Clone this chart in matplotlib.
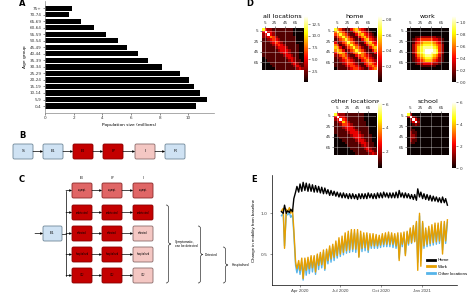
import numpy as np
import matplotlib.pyplot as plt
from matplotlib.patches import FancyBboxPatch, PathPatch
from matplotlib.path import Path
from matplotlib.lines import Line2D

W, H = 474, 305

# ---------------- data ----------------
# A: population by age group (millions)
age_groups = ['0-4', '5-9', '10-14', '15-19', '20-24', '25-29', '30-34', '35-39',
              '40-44', '45-49', '50-54', '55-59', '60-64', '65-69', '70-74', '75+']
population = [10.54, 11.33, 10.84, 10.37, 10.05, 9.40, 8.20, 7.20,
              6.50, 5.73, 5.10, 4.25, 3.40, 2.50, 1.68, 1.90]

# D: contact matrices, each digit = level 0..9 between vmin and vmax
all_rows = ["7322111111110000", "3933211111110000", "2393211111110000", "2235421111111000",
            "1123432111111000", "1112343211111000", "1111234321111100", "1111123332111100",
            "1111112333211100", "1111111233211100", "1111111123321100", "0111111112332100",
            "0011111111232110", "0001111111123211", "0000111111112321", "0000011111111232"]
home_rows = ["7542113564321000", "5754211356432100", "4575421135643210", "2457542113564321",
             "1245754211356432", "3124575421135643", "5312457542113564", "6531245754211356",
             "5653124575421135", "3565312457542113", "2245421134543211", "1224532113454321",
             "1123443211345432", "1112344321134543", "1111234432113454", "0111123443211345"]
work_rows = ["0000000000000000", "0000000000000000", "0000000000000000", "0001122222211000",
             "0012344444332100", "0013456666543100", "0024567777654200", "0024678888764200",
             "0024678999874200", "0024678998874200", "0013567887653100", "0012456776542100",
             "0012345665432100", "0001223333221000", "0000011111100000", "0000000000000000"]
other_rows = ["7322111111100000", "3933211111100000", "2394311111100000", "1236421111110000",
              "1124432111110000", "1112333211111000", "1111233321111000", "1111123332111000",
              "0111112333211100", "0011111233211100", "0001111123321100", "0000111112332110",
              "0000011111232110", "0000001111123211", "0000000111112321", "0000000011111232"]
school_rows = ["7200000000000000", "2921000000000000", "0293100000000000", "0139200000000000",
               "0012100000000000", "0100000000000000", "0110000000000000", "0211000000000000",
               "0221000000000000", "0221000000000000", "0211000000000000", "0110000000000000",
               "0000000000000000", "0000000000000000", "0000000000000000", "0000000000000000"]

# E: mobility, one weekday and one weekend value per week (weeks from 17 Feb 2020)
first_monday = np.datetime64('2020-02-17')
home_wd = [1.02, 1.10, 1.03, 1.05, 1.18, 1.33, 1.36, 1.38, 1.37, 1.36, 1.35, 1.34, 1.33, 1.32,
           1.31, 1.29, 1.28, 1.27, 1.26, 1.25, 1.25, 1.24, 1.24, 1.24, 1.23, 1.24, 1.24, 1.24,
           1.25, 1.24, 1.24, 1.25, 1.25, 1.26, 1.25, 1.25, 1.25, 1.26, 1.28, 1.25, 1.25, 1.24,
           1.23, 1.23, 1.30, 1.26, 1.24, 1.23, 1.22, 1.21, 1.20, 1.19, 1.20, 1.18]
home_we = [1.00, 1.00, 1.01, 1.02, 1.26, 1.26, 1.27, 1.28, 1.27, 1.27, 1.26, 1.26, 1.25, 1.24,
           1.24, 1.22, 1.22, 1.21, 1.20, 1.19, 1.19, 1.18, 1.18, 1.18, 1.17, 1.18, 1.18, 1.18,
           1.19, 1.18, 1.18, 1.19, 1.19, 1.20, 1.19, 1.19, 1.19, 1.19, 1.20, 1.19, 1.19, 1.18,
           1.17, 1.16, 1.20, 1.18, 1.17, 1.16, 1.15, 1.15, 1.14, 1.13, 1.13, 1.10]
work_wd = [1.03, 0.57, 1.02, 1.00, 0.80, 0.32, 0.30, 0.20, 0.30, 0.32, 0.33, 0.28, 0.36, 0.37,
           0.32, 0.42, 0.44, 0.46, 0.48, 0.50, 0.52, 0.54, 0.55, 0.56, 0.56, 0.46, 0.57, 0.58,
           0.55, 0.60, 0.60, 0.60, 0.61, 0.62, 0.62, 0.62, 0.62, 0.60, 0.42, 0.62, 0.48, 0.63,
           0.64, 0.65, 0.30, 0.35, 0.60, 0.62, 0.63, 0.64, 0.65, 0.66, 0.50, 0.66]
work_we = [1.06, 1.05, 1.07, 1.05, 0.40, 0.42, 0.45, 0.45, 0.46, 0.48, 0.48, 0.50, 0.52, 0.55,
           0.56, 0.60, 0.62, 0.66, 0.70, 0.72, 0.76, 0.78, 0.80, 0.80, 0.80, 0.78, 0.76, 0.76,
           0.75, 0.75, 0.74, 0.73, 0.75, 0.76, 0.77, 0.76, 0.75, 0.76, 0.76, 0.77, 0.78, 0.82,
           0.85, 0.90, 1.00, 0.90, 0.82, 0.84, 0.86, 0.88, 0.88, 0.90, 0.90, 0.92]
other_wd = [0.97, 0.60, 0.98, 0.95, 0.75, 0.27, 0.25, 0.18, 0.24, 0.26, 0.28, 0.25, 0.31, 0.33,
            0.30, 0.38, 0.40, 0.42, 0.45, 0.47, 0.49, 0.51, 0.52, 0.53, 0.52, 0.47, 0.53, 0.54,
            0.52, 0.57, 0.57, 0.57, 0.58, 0.59, 0.59, 0.59, 0.58, 0.57, 0.45, 0.59, 0.50, 0.61,
            0.63, 0.66, 0.40, 0.42, 0.57, 0.59, 0.60, 0.61, 0.62, 0.63, 0.55, 0.63]
other_we = [1.00, 1.00, 1.01, 0.98, 0.36, 0.38, 0.40, 0.42, 0.43, 0.45, 0.46, 0.48, 0.50, 0.52,
            0.54, 0.57, 0.59, 0.63, 0.66, 0.68, 0.72, 0.74, 0.76, 0.76, 0.76, 0.74, 0.73, 0.73,
            0.72, 0.72, 0.71, 0.70, 0.72, 0.73, 0.74, 0.73, 0.72, 0.73, 0.73, 0.74, 0.76, 0.80,
            0.83, 0.88, 0.97, 0.88, 0.79, 0.81, 0.83, 0.85, 0.85, 0.87, 0.87, 0.89]


def px_axes(x0, y0, x1, y1):
    # axes placed by pixel box (top-left origin)
    return fig.add_axes([x0 / W, 1 - y1 / H, (x1 - x0) / W, (y1 - y0) / H])


fig = plt.figure(figsize=(W / 100, H / 100), dpi=100)

# ---------------- A ----------------
ax = px_axes(45, 1.3, 214, 113)
ax.barh(range(len(population)), population, height=0.8, color='black')
ax.set_ylim(-1.07, 16.07)
ax.set_xlim(0, 11.8)
ax.set_yticks(range(len(age_groups)))
ax.set_yticklabels(age_groups)
ax.set_xticks([0, 2, 4, 6, 8, 10])
ax.tick_params(labelsize=3, length=1.5, width=0.4, pad=1, colors='#333333')
for s in ['top', 'right']:
    ax.spines[s].set_visible(False)
for s in ['left', 'bottom']:
    ax.spines[s].set_linewidth(0.5)
    ax.spines[s].set_color('#888888')
ax.set_xlabel('Population size (millions)', fontsize=3.2, labelpad=2)
ax.set_ylabel('Age group', fontsize=3.2, labelpad=2)

# ---------------- D ----------------
def heat(rows, vmin, vmax, box, cbox, title, ticks):
    m = np.array([[int(c) for c in r] for r in rows]) / 9 * (vmax - vmin) + vmin
    a = px_axes(*box)
    im = a.imshow(m, cmap='hot', vmin=vmin, vmax=vmax, extent=(0, 80, 80, 0),
                  interpolation='nearest', aspect='auto')
    a.xaxis.tick_top()
    a.set_xticks([5, 25, 45, 65])
    a.set_yticks([5, 25, 45, 65])
    a.tick_params(labelsize=3, length=1.5, width=0.4, pad=1, colors='#333333')
    a.grid(True, color='white', lw=0.4, alpha=0.6)
    a.set_axisbelow(False)
    for s in a.spines.values():
        s.set_visible(False)
    a.set_title(title, fontsize=4.6, pad=2)
    c = px_axes(*cbox)
    cb = fig.colorbar(im, cax=c, ticks=ticks)
    cb.outline.set_visible(False)
    c.tick_params(labelsize=3, length=1.5, width=0.4, pad=1, colors='#333333')


heat(all_rows, 0.2, 14.2, (262, 28, 303, 70), (304, 16, 308, 82), 'all locations',
     [2.5, 5.0, 7.5, 10.0, 12.5])
heat(home_rows, 0.0, 0.85, (334, 28, 376, 70), (378, 16, 382, 82), 'home',
     [0.2, 0.4, 0.6, 0.8])
heat(work_rows, 0.0, 1.1, (407, 28, 449, 70), (452, 16, 456, 82), 'work',
     [0.0, 0.2, 0.4, 0.6, 0.8, 1.0])
heat(other_rows, 0.6, 6.2, (334, 113, 376, 155), (378, 102, 382, 168), 'other locations',
     [2, 4, 6])
heat(school_rows, 0.0, 6.0, (407, 113, 449, 155), (452, 102, 456, 168), 'school',
     [0, 2, 4, 6])

# ---------------- B & C (flow charts) ----------------
fc_ax = px_axes(0, 125, 240, 305)
fc_ax.set_xlim(0, 240)
fc_ax.set_ylim(305, 125)
fc_ax.axis('off')

blue, blue_ec = '#cfe2f3', '#6f8798'
dred, dred_ec = '#c40000', '#8a0000'
mred, mred_ec = '#e06666', '#8a2a2a'
pink, pink_ec = '#f4c7c3', '#8a6a6a'
ff = 'Liberation Sans'


def box(x0, y0, x1, y1, fc, ec, label, fs=2.6):
    fc_ax.add_patch(FancyBboxPatch((x0, y0), x1 - x0, y1 - y0,
                                   boxstyle='round,pad=0,rounding_size=1.5',
                                   fc=fc, ec=ec, lw=0.6))
    fc_ax.text((x0 + x1) / 2, (y0 + y1) / 2, label, ha='center', va='center',
               fontsize=fs, family=ff)


def arrow(x0, y0, x1, y1):
    fc_ax.annotate('', xy=(x1, y1), xytext=(x0, y0),
                   arrowprops=dict(arrowstyle='-|>', color='k', lw=0.5,
                                   mutation_scale=3, shrinkA=0, shrinkB=0))


def brace(x, y0, y1, w):
    ym = (y0 + y1) / 2
    r = w / 2
    verts = [(x, y0), (x + r, y0), (x + r, y0 + r), (x + r, ym - r),
             (x + r, ym), (x + w, ym), (x + r, ym), (x + r, ym + r),
             (x + r, y1 - r), (x + r, y1), (x, y1)]
    codes = [Path.MOVETO, Path.CURVE3, Path.CURVE3, Path.LINETO,
             Path.CURVE3, Path.CURVE3, Path.CURVE3, Path.CURVE3,
             Path.LINETO, Path.CURVE3, Path.CURVE3]
    fc_ax.add_patch(PathPatch(Path(verts, codes), fc='none', ec='#333333', lw=0.5))


# B
b_labels = ['S', 'E$_L$', 'E$_I$', 'I$_P$', 'I', 'R']
b_colors = [(blue, blue_ec), (blue, blue_ec), (dred, dred_ec), (dred, dred_ec),
            (pink, pink_ec), (blue, blue_ec)]
b_x = [13, 43, 73, 103, 135, 165]
for i, (lab, (f, e), x) in enumerate(zip(b_labels, b_colors, b_x)):
    box(x, 144, x + 20, 159, f, e, lab, fs=3)
    if i < len(b_x) - 1:
        arrow(x + 20, 151.5, b_x[i + 1], 151.5)

# C
box(43, 226, 62, 241, blue, blue_ec, 'E$_L$', fs=3)
arrow(35, 233.5, 43, 233.5)
col_x = [72, 102, 133]
row_y = [183, 205, 226, 247, 268]
row_names = ['asympt.', 'undetected', 'detected', 'hospitalised', 'ICU']
col_heads = ['E$_I$', 'I$_P$', 'I']
for cx, hd in zip(col_x, col_heads):
    fc_ax.text(cx + 10, 178, hd, ha='center', va='center', fontsize=2.6, family=ff)
fc_ax.plot([62, 66], [233.5, 233.5], color='k', lw=0.5)
fc_ax.plot([66, 66], [row_y[0] + 7.5, row_y[-1] + 7.5], color='k', lw=0.5)
for r, (ry, name) in enumerate(zip(row_y, row_names)):
    arrow(66, ry + 7.5, 72, ry + 7.5)
    for c, cx in enumerate(col_x):
        if r == 0:
            f, e = mred, mred_ec
        elif c == 2 and r >= 2:
            f, e = pink, pink_ec
        else:
            f, e = dred, dred_ec
        box(cx, ry, cx + 20, ry + 15, f, e, name, fs=1.8)
        if c < 2:
            arrow(cx + 20, ry + 7.5, col_x[c + 1], ry + 7.5)

brace(166, 205, 283, 5)
fc_ax.text(175, 244, 'Symptomatic,\ncan be detected', ha='left', va='center',
           fontsize=2.3, family=ff, linespacing=1.1)
brace(198, 226, 283, 5)
fc_ax.text(205, 254.5, 'Detected', ha='left', va='center', fontsize=2.3, family=ff)
brace(223, 247, 283, 5)
fc_ax.text(232, 265, 'Hospitalised', ha='left', va='center', fontsize=2.3, family=ff,
           clip_on=False)

# ---------------- E ----------------
ax = px_axes(271.7, 175, 456.7, 285)
weeks = first_monday + np.arange(len(home_wd)) * 7
x = np.column_stack([weeks + 2, weeks + 6]).ravel()


def zig(a, b):
    return np.column_stack([a, b]).ravel()


ax.plot(x, zig(other_wd, other_we), color='#56B4E9', lw=1.0, zorder=2)
ax.plot(x, zig(work_wd, work_we), color='#E69F00', lw=1.0, zorder=3)
ax.plot(x, zig(home_wd, home_we), color='black', lw=1.0, zorder=4)
ax.set_ylim(0.12, 1.47)
ax.set_xlim(np.datetime64('2020-01-28'), np.datetime64('2021-03-21'))
ax.set_yticks([0.5, 1.0])
ax.set_yticklabels(['0.5', '1.0'])
tk = [np.datetime64('2020-04-01'), np.datetime64('2020-07-01'),
      np.datetime64('2020-10-01'), np.datetime64('2021-01-01')]
ax.set_xticks(tk)
ax.set_xticklabels(['Apr 2020', 'Jul 2020', 'Oct 2020', 'Jan 2021'], family=ff)
ax.tick_params(labelsize=3.2, length=1.5, width=0.4, pad=1.5, colors='#444444')
for s in ['top', 'right']:
    ax.spines[s].set_visible(False)
for s in ['left', 'bottom']:
    ax.spines[s].set_linewidth(0.5)
ax.set_ylabel('Change in mobility from baseline', fontsize=3.2, family=ff, labelpad=3)

handles = [Line2D([], [], color=c, lw=2) for c in ['black', '#E69F00', '#56B4E9']]
fig.legend(handles, ['Home', 'Work', 'Other locations'], loc='upper left',
           bbox_to_anchor=(427 / W, 1 - 258 / H), frameon=False,
           prop={'family': ff, 'size': 3.2}, handlelength=1.8, handletextpad=0.6,
           labelspacing=0.6, borderaxespad=0, borderpad=0)

# ---------------- panel letters ----------------
for lab, (px, py) in {'A': (22, 4), 'B': (22, 135), 'C': (22, 179),
                      'D': (250, 3), 'E': (254, 179)}.items():
    fig.text(px / W, 1 - py / H, lab, fontsize=6, fontweight='bold',
             ha='center', va='center')

fig.savefig('out.png', dpi=100)
